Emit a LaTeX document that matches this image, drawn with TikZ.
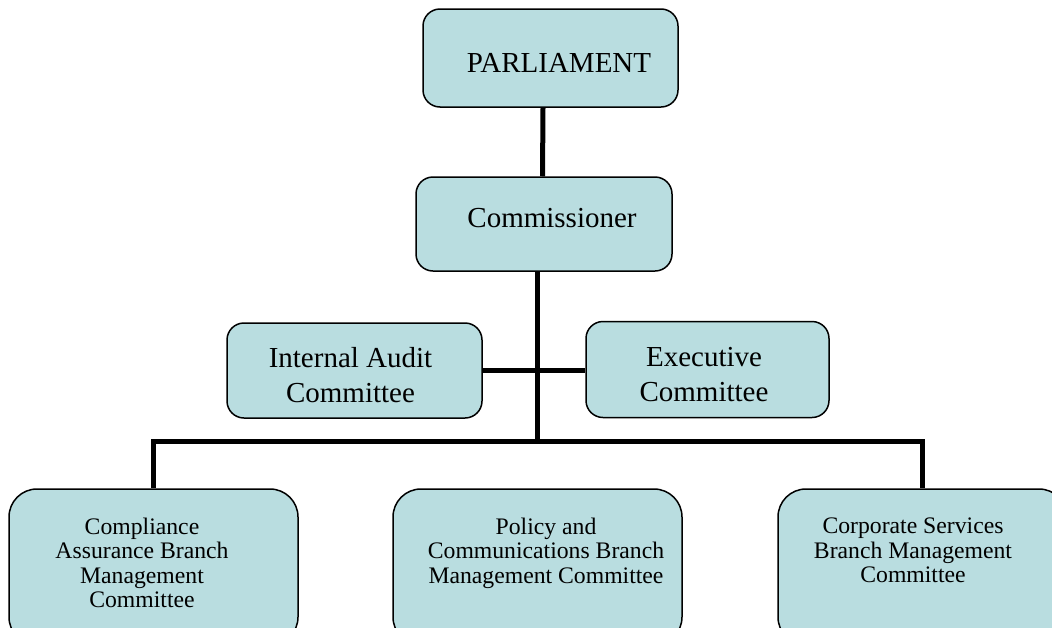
\documentclass[tikz,border=0pt]{standalone}
\usepackage{fontspec}
\setmainfont{Liberation Serif}
\definecolor{boxfill}{RGB}{185,221,224}
\tikzset{
  orgbox/.style={draw=black, line width=1.5pt, fill=boxfill, rounded corners=17pt, inner sep=0pt},
  bigbox/.style={orgbox, rounded corners=28pt},
  conn/.style={draw=black, line width=5pt, line join=miter},
  toptext/.style={inner sep=0pt, font=\fontsize{29}{35}\selectfont, align=center},
  lowtext/.style={inner sep=0pt, font=\fontsize{23.7}{24.3}\selectfont, align=center}
}
\begin{document}
\begin{tikzpicture}[x=1pt,y=-1pt]
\useasboundingbox (0,0) rectangle (1052,627);
\fill[white] (0,0) rectangle (1052,627);
\clip (0,0) rectangle (1052,627);

% boxes
\node[orgbox, minimum width=255pt, minimum height=98pt] (parl) at (550.5,58) {};
\node[orgbox, minimum width=256pt, minimum height=94pt] (comm) at (544,224) {};
\node[orgbox, minimum width=255pt, minimum height=95pt] (audit) at (354.5,370.5) {};
\node[orgbox, minimum width=243pt, minimum height=96pt] (exec) at (707.5,369.5) {};
\node[bigbox, minimum width=289pt, minimum height=156pt] (comp) at (153.5,567) {};
\node[bigbox, minimum width=289pt, minimum height=156pt] (pol) at (537.5,567) {};
\node[bigbox, minimum width=289pt, minimum height=156pt] (corp) at (922.5,567) {};

\coordinate (bar) at (537,441);

% connectors
\draw[conn] ([xshift=-7.5pt]parl.south) -- ([xshift=-1.5pt]comm.north);
\draw[conn] ([xshift=-7pt]comm.south) -- (bar);
\draw[conn] (audit.east) -- (audit.east -| exec.west);
\draw[conn] (comp.north) -- (comp.north |- bar) -- (corp.north |- bar) -- (corp.north);

% texts
\node[toptext, anchor=base] (tparl) at (559,72) {PARLIAMENT};
\node[toptext, anchor=base] (tcomm) at (552,227) {Commissioner};
\node[toptext, anchor=north] (taudit) at (350.5,347.5) {Internal Audit\\Committee};
\node[toptext, anchor=north] (texec) at (704,347.5) {Executive\\Committee};
\node[lowtext, anchor=north] (tcomp) at (142,518) {Compliance\\Assurance Branch\\Management\\Committee};
\node[lowtext, anchor=north] (tpol) at (546,518) {Policy and\\Communications Branch\\Management Committee};
\node[lowtext, anchor=north] (tcorp) at (913,518) {Corporate Services\\Branch Management\\Committee};
\end{tikzpicture}
\end{document}
